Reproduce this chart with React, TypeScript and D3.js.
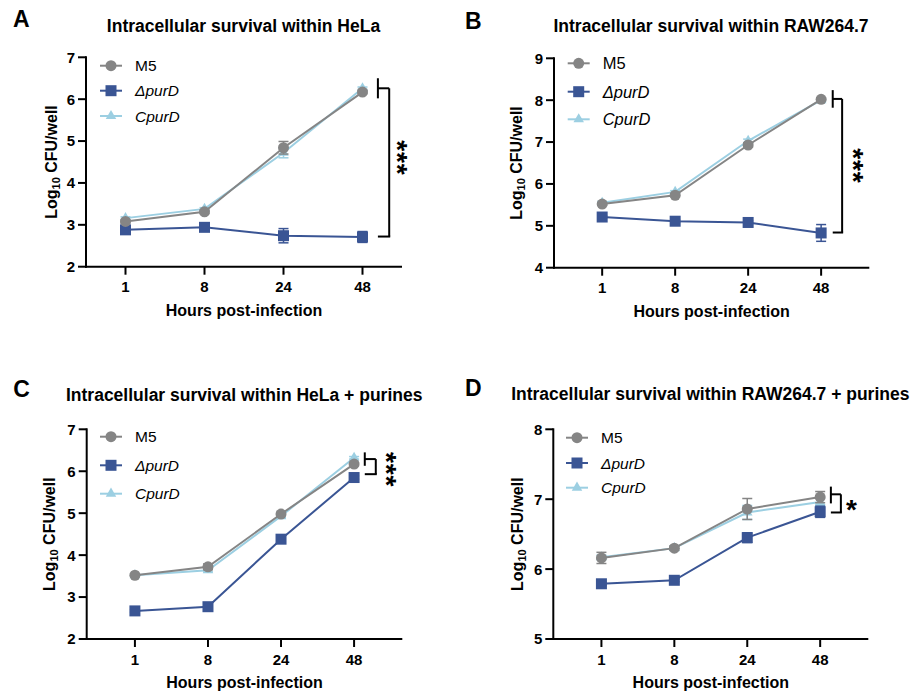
import React from "react";
import * as d3 from "d3";

const hours = ["1", "8", "24", "48"];
const seriesNames = ["M5", "ΔpurD", "CpurD"];
const seriesColors = ["#858585", "#3a5594", "#9ccfe2"];

// Panel A: HeLa
const helaM5 = [3.08, 3.31, 4.84, 6.17];
const helaM5Err = [0.03, 0.04, 0.15, 0.04];
const helaDel = [2.88, 2.94, 2.74, 2.71];
const helaDelErr = [0.04, 0.03, 0.17, 0.13];
const helaComp = [3.16, 3.38, 4.72, 6.26];
const helaCompErr = [0.03, 0.03, 0.12, 0.03];

// Panel B: RAW264.7
const rawM5 = [5.52, 5.73, 6.93, 8.02];
const rawM5Err = [0.03, 0.04, 0.05, 0.03];
const rawDel = [5.21, 5.11, 5.08, 4.83];
const rawDelErr = [0.03, 0.03, 0.04, 0.2];
const rawComp = [5.55, 5.81, 7.03, 8.0];
const rawCompErr = [0.03, 0.03, 0.04, 0.03];

// Panel C: HeLa + purines
const helaPM5 = [3.52, 3.72, 4.98, 6.17];
const helaPM5Err = [0.03, 0.07, 0.04, 0.04];
const helaPDel = [2.67, 2.77, 4.38, 5.85];
const helaPDelErr = [0.03, 0.03, 0.04, 0.04];
const helaPComp = [3.52, 3.64, 4.93, 6.32];
const helaPCompErr = [0.03, 0.04, 0.04, 0.03];

// Panel D: RAW264.7 + purines
const rawPM5 = [6.16, 6.3, 6.86, 7.03];
const rawPM5Err = [0.08, 0.03, 0.15, 0.08];
const rawPDel = [5.79, 5.84, 6.45, 6.82];
const rawPDelErr = [0.02, 0.02, 0.07, 0.08];
const rawPComp = [6.17, 6.3, 6.81, 6.96];
const rawPCompErr = [0.03, 0.03, 0.1, 0.05];

const panels = [
  {
    letter: "A", title: "Intracellular survival within HeLa",
    yDomain: [2, 7], yTicks: [2, 3, 4, 5, 6, 7],
    vals: [helaM5, helaDel, helaComp], errs: [helaM5Err, helaDelErr, helaCompErr],
    box: { x0: 86, x1: 402, y0: 57.3, y1: 266.7 }, pad: 0.5,
    legendDx: 14, legendRows: [8.4, 33.4, 58.7], legendFont: 15.5,
    bracket: [6.5, 6.02, 6.26, 2.72], stars: 3, starY: 4.61, starRot: 90,
    bx: [15.4, 26.7, 41],
    letterPos: [13, 26.7], titlePos: [243.5, 31.5], yTitleX: 56.5, xTitleY: 316,
  },
  {
    letter: "B", title: "Intracellular survival within RAW264.7",
    yDomain: [4, 9], yTicks: [4, 5, 6, 7, 8, 9],
    vals: [rawM5, rawDel, rawComp], errs: [rawM5Err, rawDelErr, rawCompErr],
    box: { x0: 554, x1: 869.3, y0: 58.3, y1: 267.7 }, pad: 0.66,
    legendDx: 13.7, legendRows: [5, 33.4, 61], legendFont: 16.5,
    bracket: [8.24, 7.82, 8.03, 4.84], stars: 3, starY: 6.44, starRot: 90,
    bx: [11.6, 21, 38.6],
    letterPos: [465, 29], titlePos: [711, 31.5], yTitleX: 521.5, xTitleY: 316.5,
  },
  {
    letter: "C", title: "Intracellular survival within HeLa + purines",
    yDomain: [2, 7], yTicks: [2, 3, 4, 5, 6, 7],
    vals: [helaPM5, helaPDel, helaPComp], errs: [helaPM5Err, helaPDelErr, helaPCompErr],
    box: { x0: 86.7, x1: 402.3, y0: 429.3, y1: 639 }, pad: 0.66,
    legendDx: 13.3, legendRows: [7.4, 36, 64.4], legendFont: 15.5,
    bracket: [6.45, 6.13, 6.29, 5.93], stars: 3, starY: 6.05, starRot: 90,
    bx: [10.7, 21.7, 39],
    letterPos: [13.3, 396.7], titlePos: [244.2, 400.8], yTitleX: 54.8, xTitleY: 687.7,
  },
  {
    letter: "D", title: "Intracellular survival within RAW264.7 + purines",
    yDomain: [5, 8], yTicks: [5, 6, 7, 8],
    vals: [rawPM5, rawPDel, rawPComp], errs: [rawPM5Err, rawPDelErr, rawPCompErr],
    box: { x0: 553.3, x1: 868.3, y0: 429.3, y1: 639 }, pad: 0.66,
    legendDx: 12.7, legendRows: [8.4, 33.7, 58.4], legendFont: 15.5,
    bracket: [7.18, 6.94, 7.07, 6.81], stars: 1, starY: 6.94, starRot: 0,
    bx: [10.7, 20.7, 31.4],
    letterPos: [465, 396], titlePos: [710.3, 400.2], yTitleX: 522.5, xTitleY: 688,
  },
];

const FONT = "'Liberation Sans', Arial, Helvetica, sans-serif";
const STAR_FS = 28;
const STAR_STEP = 11.7;

function Marker({ i, x, y, color }: { i: number; x: number; y: number; color: string }) {
  if (i === 0) return <circle cx={x} cy={y} r={5.5} fill={color} />;
  if (i === 1) return <rect x={x - 5.5} y={y - 5.5} width={11} height={11} fill={color} />;
  const tri = d3.symbol().type(d3.symbolTriangle).size(48)();
  return <path d={tri || ""} transform={`translate(${x},${y})`} fill={color} />;
}

function Panel({ p }: { p: any }) {
  const { box } = p;
  const x = d3.scalePoint<string>().domain(hours).range([box.x0, box.x1]).padding(p.pad);
  const y = d3.scaleLinear().domain(p.yDomain).range([box.y1, box.y0]);
  const line = d3
    .line<number>()
    .x((_, k) => x(hours[k]) as number)
    .y((v) => y(v));
  const order = [2, 1, 0];
  const x48 = x("48") as number;
  const [bHi, bLo, bMid, bBot] = p.bracket;
  const cx = (box.x0 + box.x1) / 2;
  const cy = (box.y0 + box.y1) / 2;
  const starCx = x48 + p.bx[2];
  const starCy = y(p.starY);
  return (
    <g fontFamily={FONT}>
      <text x={p.letterPos[0]} y={p.letterPos[1]} fontSize={23} fontWeight="bold">
        {p.letter}
      </text>
      <text x={p.titlePos[0]} y={p.titlePos[1]} fontSize={17.5} fontWeight="bold" textAnchor="middle">
        {p.title}
      </text>
      {/* y axis */}
      <line x1={box.x0} x2={box.x0} y1={box.y0 - 1} y2={box.y1 + 1} stroke="#000" strokeWidth={2} />
      {p.yTicks.map((t: number) => (
        <g key={t}>
          <line x1={box.x0 - 8} x2={box.x0} y1={y(t)} y2={y(t)} stroke="#000" strokeWidth={2} />
          <text x={box.x0 - 11} y={y(t)} dy="0.36em" fontSize={15} fontWeight="bold" textAnchor="end">
            {t}
          </text>
        </g>
      ))}
      {/* x axis */}
      <line x1={box.x0 - 1} x2={box.x1} y1={box.y1} y2={box.y1} stroke="#000" strokeWidth={2} />
      {hours.map((h) => (
        <g key={h}>
          <line x1={x(h)} x2={x(h)} y1={box.y1} y2={box.y1 + 8} stroke="#000" strokeWidth={2} />
          <text x={x(h)} y={box.y1 + 25.5} fontSize={15} fontWeight="bold" textAnchor="middle">
            {h}
          </text>
        </g>
      ))}
      <text x={cx} y={p.xTitleY} fontSize={16} fontWeight="bold" textAnchor="middle">
        Hours post-infection
      </text>
      <text
        transform={`translate(${p.yTitleX},${cy}) rotate(-90)`}
        fontSize={16}
        fontWeight="bold"
        textAnchor="middle"
      >
        Log<tspan fontSize={11} dy={3}>10</tspan>
        <tspan dy={-3}> CFU/well</tspan>
      </text>
      {/* series */}
      {order.map((i) => (
        <g key={i}>
          <path d={line(p.vals[i]) || ""} fill="none" stroke={seriesColors[i]} strokeWidth={2} />
          {p.vals[i].map((v: number, k: number) => {
            const e = p.errs[i][k];
            const px = x(hours[k]) as number;
            return (
              <g key={k}>
                <line x1={px} x2={px} y1={y(v - e)} y2={y(v + e)} stroke={seriesColors[i]} strokeWidth={1.5} />
                <line x1={px - 5} x2={px + 5} y1={y(v - e)} y2={y(v - e)} stroke={seriesColors[i]} strokeWidth={1.5} />
                <line x1={px - 5} x2={px + 5} y1={y(v + e)} y2={y(v + e)} stroke={seriesColors[i]} strokeWidth={1.5} />
                <Marker i={i} x={px} y={y(v)} color={seriesColors[i]} />
              </g>
            );
          })}
        </g>
      ))}
      {/* legend */}
      {seriesNames.map((n, i) => {
        const lx = box.x0 + p.legendDx;
        const ly = box.y0 + p.legendRows[i];
        return (
          <g key={n}>
            <line x1={lx} x2={lx + 22} y1={ly} y2={ly} stroke={seriesColors[i]} strokeWidth={2} />
            <Marker i={i} x={lx + 11} y={ly} color={seriesColors[i]} />
            <text x={lx + 35} y={ly} dy="0.36em" fontSize={p.legendFont} fontStyle={i === 0 ? "normal" : "italic"}>
              {n}
            </text>
          </g>
        );
      })}
      {/* significance bracket */}
      <g stroke="#000" strokeWidth={2} fill="none">
        <line x1={x48 + p.bx[0]} x2={x48 + p.bx[0]} y1={y(bHi)} y2={y(bLo)} />
        <line x1={x48 + p.bx[0]} x2={x48 + p.bx[1]} y1={y(bMid)} y2={y(bMid)} />
        <line x1={x48 + p.bx[1]} x2={x48 + p.bx[1]} y1={y(bMid)} y2={y(bBot)} />
        <line x1={x48 + p.bx[0]} x2={x48 + p.bx[1] + 1} y1={y(bBot)} y2={y(bBot)} />
      </g>
      {d3.range(p.stars).map((j: number) => {
        const sy = starCy + (j - (p.stars - 1) / 2) * STAR_STEP;
        return (
          <text
            key={j}
            transform={`translate(${starCx},${sy}) rotate(${p.starRot})`}
            y={STAR_FS * 0.57}
            fontSize={STAR_FS}
            fontWeight="bold"
            textAnchor="middle"
          >
            *
          </text>
        );
      })}
    </g>
  );
}

export default function App() {
  return (
    <svg
      width={911}
      height={695}
      viewBox="0 0 911 695"
      style={{ position: "absolute", left: 0, top: 0, background: "#fff" }}
    >
      <rect width={911} height={695} fill="#fff" />
      {panels.map((p) => (
        <Panel key={p.letter} p={p} />
      ))}
    </svg>
  );
}
